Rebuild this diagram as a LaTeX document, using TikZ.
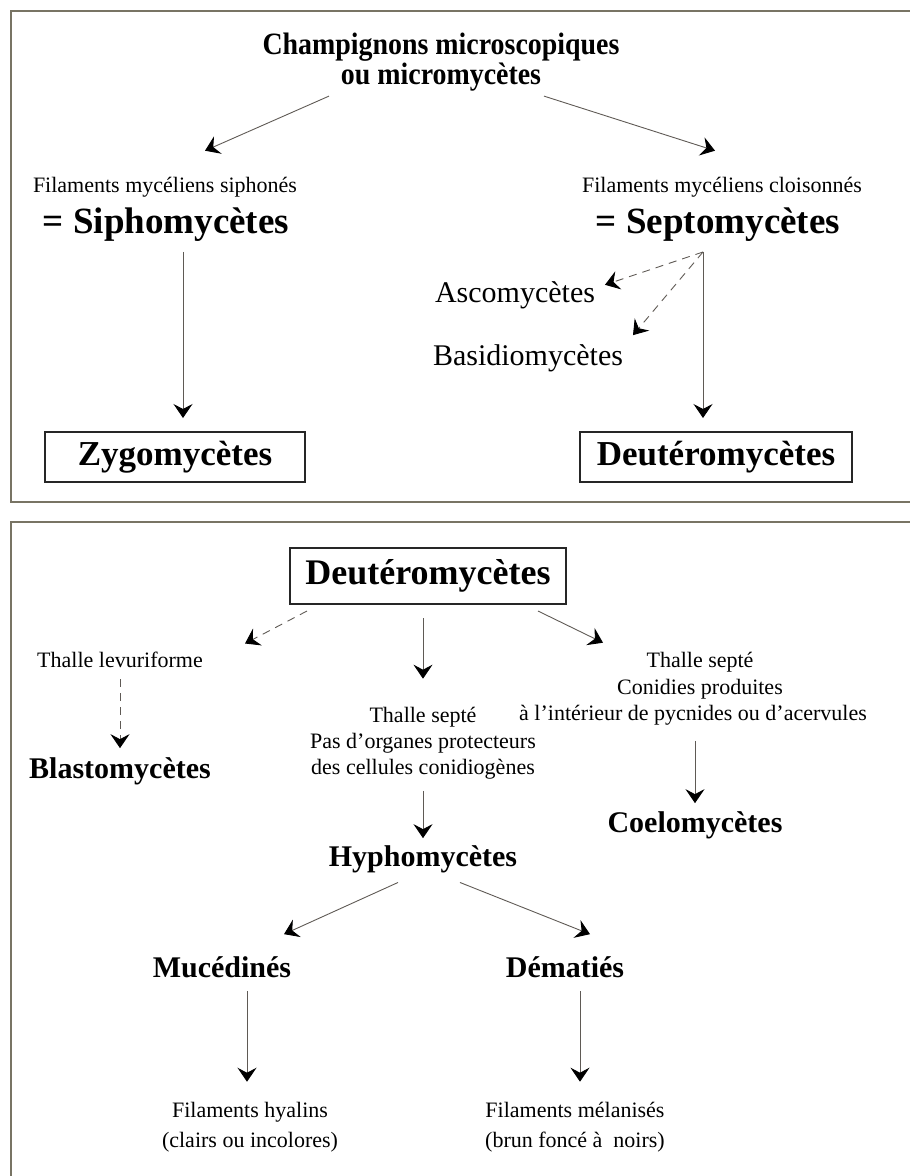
\documentclass[tikz,border=0pt]{standalone}
\usepackage{fontspec}
\setmainfont{Liberation Serif}
\newfontfamily\condbf[FakeStretch=0.9]{Liberation Serif Bold}
\usetikzlibrary{arrows.meta}
\definecolor{framecol}{RGB}{120,116,100}
\definecolor{linecol}{RGB}{95,90,85}
\begin{document}
\begin{tikzpicture}[x=1pt,y=-1pt,
  every node/.style={inner sep=0pt,outer sep=0pt,align=center},
  frame/.style={draw=framecol,line width=1.3pt},
  boxed/.style={draw=black!85,line width=1.6pt,minimum height=50pt},
  arr/.style={draw=linecol,line width=0.9pt,-{Stealth[length=14pt,width=19pt,inset=5pt,color=black]}},
  darr/.style={arr,dash pattern=on 8pt off 6pt},
  titlef/.style={font=\condbf\fontsize{31}{30}\selectfont},
  reg/.style={font=\fontsize{22}{27}\selectfont},
  regbig/.style={font=\fontsize{30}{34}\selectfont},
  bldbig/.style={font=\bfseries\fontsize{37}{40}\selectfont},
  boxf/.style={font=\bfseries\fontsize{35}{38}\selectfont},
  bld/.style={font=\bfseries\fontsize{30}{32}\selectfont},
  hugebld/.style={font=\bfseries\fontsize{36}{40}\selectfont}
]
\useasboundingbox (0,0) rectangle (910,1176);
% panels
\draw[frame] (11,11) rectangle (940,502);
\draw[frame] (11,522) rectangle (940,1200);

% ---------- top panel ----------
\node[titlef] (title) at (441,62) {Champignons microscopiques\\ou micromycètes};
\node[reg,anchor=base] (f1) at (165,192) {Filaments mycéliens siphonés};
\node[bldbig,anchor=base] (siph) at (166,233) {= Siphomycètes};
\node[reg,anchor=base] (f2) at (722,192) {Filaments mycéliens cloisonnés};
\node[bldbig,anchor=base] (sept) at (718,233) {= Septomycètes};
\node[regbig,anchor=base] (asco) at (515,302) {Ascomycètes};
\node[regbig,anchor=base] (basi) at (528,365) {Basidiomycètes};
\node[boxed,boxf,minimum width=260pt] (zygo) at (175,457) {Zygomycètes};
\node[boxed,boxf,minimum width=272pt] (deut1) at (716,457) {Deutéromycètes};

\draw[arr] ([shift={(-112,5)}]title.south) -- ([shift={(40,-26)}]f1.north);
\draw[arr] ([shift={(103,5)}]title.south) -- ([shift={(-7,-26)}]f2.north);
\draw[arr] ([shift={(17,11)}]siph.south) -- ([shift={(8,-14)}]zygo.north);
\draw[arr] ([shift={(-15,11)}]sept.south) -- ([shift={(-13,-14)}]deut1.north);
\draw[darr] ([shift={(-15,11)}]sept.south) -- ([shift={(10,-10)}]asco.east);
\draw[darr] ([shift={(-15,11)}]sept.south) -- ([shift={(10,-9)}]basi.north east);

% ---------- bottom panel ----------
\node[boxed,hugebld,minimum width=276pt,minimum height=56pt] (deut2) at (428,576) {Deutéromycètes};
\node[reg,anchor=base] (lev) at (120,667) {Thalle levuriforme};
\node[bld,anchor=base] (blasto) at (120,778) {Blastomycètes};
\node[reg,anchor=base] (ts1) at (700,667) {Thalle septé};
\node[reg,anchor=base] (ts2) at (700,694) {Conidies produites};
\node[reg,anchor=base] (ts3) at (693,720) {à l’intérieur de pycnides ou d’acervules};
\node[bld,anchor=base] (coelo) at (695,832) {Coelomycètes};
\node[reg,anchor=base] (m1) at (423,722) {Thalle septé};
\node[reg,anchor=base] (m2) at (423,748) {Pas d’organes protecteurs};
\node[reg,anchor=base] (m3) at (423,774) {des cellules conidiogènes};
\node[bld,anchor=base] (hypho) at (423,866) {Hyphomycètes};
\node[bld,anchor=base] (muce) at (222,977) {Mucédinés};
\node[bld,anchor=base] (dema) at (565,977) {Dématiés};
\node[reg,anchor=base] (h1) at (250,1117) {Filaments hyalins};
\node[reg,anchor=base] (h2) at (250,1147) {(clairs ou incolores)};
\node[reg,anchor=base] (n1) at (575,1117) {Filaments mélanisés};
\node[reg,anchor=base] (n2) at (575,1147) {(brun foncé à~ noirs)};

\draw[darr] ([shift={(-121,7)}]deut2.south) -- ([shift={(125,-8)}]lev.north);
\draw[arr] ([shift={(-5,14)}]deut2.south) -- ([shift={(0,-28)}]m1.north);
\draw[arr] ([shift={(110,7)}]deut2.south) -- ([shift={(-97,-9)}]ts1.north);
\draw[darr] ([shift={(0,12)}]lev.south) -- ([shift={(0,-9)}]blasto.north);
\draw[arr] ([shift={(2,16)}]ts3.south) -- ([shift={(0,-8)}]coelo.north);
\draw[arr] ([shift={(0,12)}]m3.south) -- ([shift={(0,-7)}]hypho.north);
\draw[arr] ([shift={(-25,10)}]hypho.south) -- ([shift={(62,-22)}]muce.north);
\draw[arr] ([shift={(37,10)}]hypho.south) -- ([shift={(25,-22)}]dema.north);
\draw[arr] ([shift={(25,14)}]muce.south) -- ([shift={(-3,-20)}]h1.north);
\draw[arr] ([shift={(15,14)}]dema.south) -- ([shift={(5,-20)}]n1.north);
\end{tikzpicture}
\end{document}
